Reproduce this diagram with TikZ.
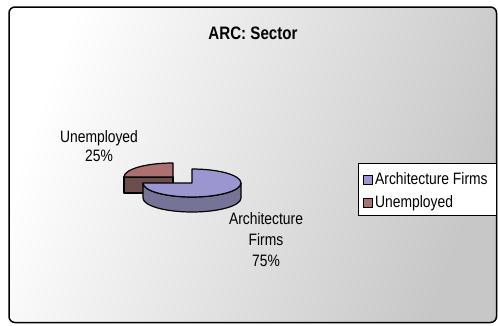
\documentclass[tikz,border=0pt]{standalone}
\usepackage{fontspec}
\newfontfamily\arialn[FakeStretch=0.84]{Liberation Sans}
\definecolor{bluetop}{RGB}{155,150,208}
\definecolor{blueside}{RGB}{118,116,150}
\definecolor{redtop}{RGB}{172,112,112}
\definecolor{redside}{RGB}{108,78,78}
\tikzset{
  lbl/.style={inner sep=0pt, anchor=base, font=\arialn\fontsize{16.5}{19}\selectfont},
  leg/.style={inner sep=0pt, anchor=base west, font=\arialn\fontsize{16.5}{19}\selectfont},
  piece/.style={draw=black, line width=1.2pt, line join=round},
  legsq/.style={draw=black, line width=1pt}
}
\begin{document}
\begin{tikzpicture}[x=1pt,y=1pt]
\useasboundingbox (0,0) rectangle (498,325);
% background panel
\shade[left color=white, right color=black!22, shading angle=70, rounded corners=6pt]
  (9,2.5) rectangle (496.5,318);
\draw[line width=1.5pt, rounded corners=6pt] (9,2.5) rectangle (496.5,318);
% title
\node[inner sep=0pt, anchor=base, font=\arialn\bfseries\fontsize{18}{21}\selectfont] (title) at (253,286) {ARC: Sector};
% exploded slice: Unemployed
\fill[redside] (124,148) rectangle (173,132);
\draw[piece] (124,148) rectangle (173,132);
\draw[piece, fill=redtop] (173,148) -- (173,162) arc[start angle=90, end angle=180, x radius=49, y radius=14] -- cycle;
% main slice: Architecture Firms
\draw[piece, fill=blueside] (143,142) arc[start angle=180, end angle=360, x radius=49, y radius=14]
  -- ++(0,-15) arc[start angle=360, end angle=180, x radius=49, y radius=14] -- cycle;
\draw[piece, fill=bluetop] (192,142) -- (192,156) arc[start angle=90, end angle=-180, x radius=49, y radius=14] -- cycle;
% data labels
\node[lbl] (u1) at (99,183) {Unemployed};
\node[lbl] (u2) at (99,164) {25\%};
\node[lbl] (a1) at (266,101) {Architecture};
\node[lbl] (a2) at (266,80) {Firms};
\node[lbl] (a3) at (266,59) {75\%};
% legend
\draw[fill=white, line width=1pt] (358,162) rectangle (496,110);
\draw[legsq, fill=bluetop] (363,150) rectangle (372,141);
\draw[legsq, fill=redtop] (363,127) rectangle (372,118);
\node[leg] (l1) at (375,141) {Architecture Firms};
\node[leg] (l2) at (375,118) {Unemployed};
\end{tikzpicture}
\end{document}
